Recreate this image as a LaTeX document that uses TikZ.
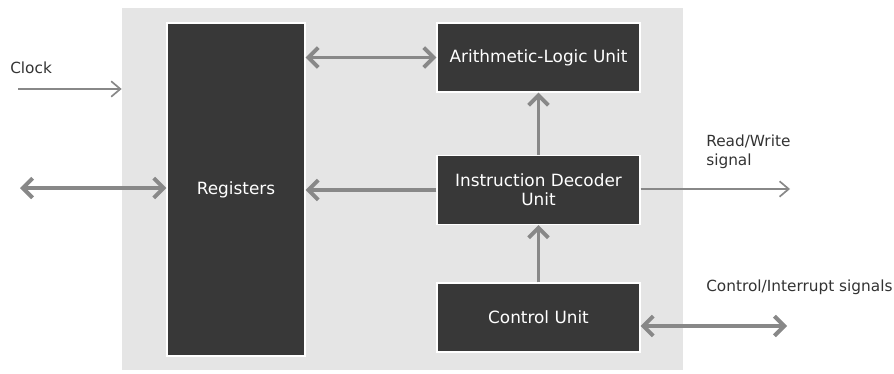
\documentclass[tikz,border=0pt]{standalone}
\usepackage{fontspec}
\setmainfont{DejaVu Sans}
\usepackage{xcolor}
\usetikzlibrary{arrows.meta}
\definecolor{boxgrey}{RGB}{56,56,56}
\definecolor{panelgrey}{RGB}{229,229,229}
\definecolor{arrowgrey}{RGB}{136,136,136}
\definecolor{labelgrey}{RGB}{51,51,51}
\tikzset{%
    unit/.style={%
        draw=white, line width=0.9pt, fill=boxgrey, text=white,
        align=center, inner sep=0pt, font=\fontsize{12}{13.5}\selectfont
    },
    bus/.style={%
        draw=arrowgrey, line width=2.8pt,
        arrows={-Straight Barb[length=7pt,width=14pt]}
    },
    twoway/.style={%
        bus, arrows={Straight Barb[length=7pt,width=14pt]-Straight Barb[length=7pt,width=14pt]}
    },
    wire/.style={%
        draw=arrowgrey, line width=1.2pt,
        arrows={-Straight Barb[length=6.5pt,width=11pt]}
    },
    signal/.style={%
        text=labelgrey, font=\fontsize{10.9}{13}\selectfont,
        align=left, inner sep=0pt
    }
}

\begin{document}
\begin{tikzpicture}[x=0.025cm, y=-0.025cm]
    \useasboundingbox (0,0) rectangle (894,374);
    \node[fill=panelgrey, minimum width=14.025cm, minimum height=9.05cm, inner sep=0pt] (panel) at (402.5,189) {};
    % units
    \node[unit, minimum width=3.45cm, minimum height=8.325cm] (regs) at (236,189.5) {Registers};
    \node[unit, minimum width=5.075cm, minimum height=1.725cm] (alu) at (538.5,57.5) {Arithmetic-Logic Unit};
    \node[unit, minimum width=5.075cm, minimum height=1.725cm] (idu) at (538.5,190) {Instruction Decoder\\Unit};
    \node[unit, minimum width=5.075cm, minimum height=1.725cm] (cu) at (538.5,317.5) {Control Unit};
    % outside ends
    \coordinate (clk) at (18,89);
    \coordinate (ext) at (20,188);
    \coordinate (rw) at (790,189);
    \coordinate (ctl) at (787,326);
    % labels
    \node[signal, anchor=west] (clklabel) at (10,68) {Clock};
    \node[signal, anchor=north west] (rwlabel) at (706,135) {Read/Write\\signal};
    \node[signal, anchor=west] (ctllabel) at (706,287) {Control/Interrupt signals};
    % connectors
    \draw[wire] (clk) -- (clk -| panel.west);
    \draw[twoway] (ext) -- (ext -| regs.west);
    \draw[twoway] (regs.east |- alu.west) -- (alu.west);
    \draw[bus] (idu.west) -- (regs.east |- idu.west);
    \draw[bus] (idu.north) -- (alu.south);
    \draw[bus] (cu.north) -- (idu.south);
    \draw[wire] (idu.east |- rw) -- (rw);
    \draw[twoway] (cu.east |- ctl) -- (ctl);
\end{tikzpicture}
\end{document}
